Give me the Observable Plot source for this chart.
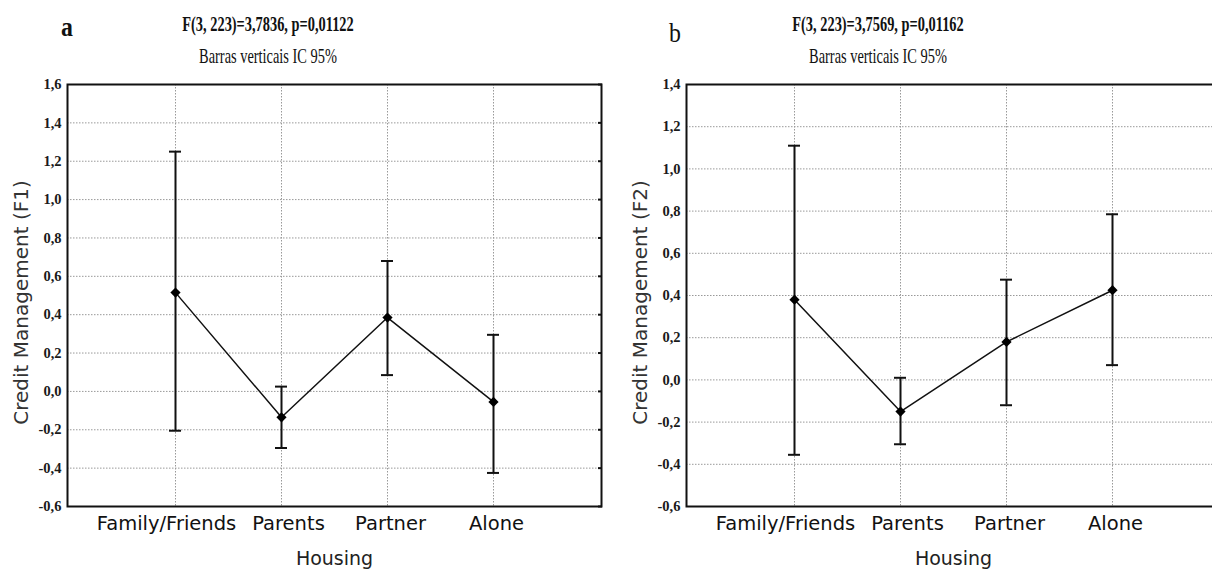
<!DOCTYPE html>
<html><head><meta charset="utf-8">
<script src="https://cdn.jsdelivr.net/npm/d3@7"></script>
<script src="https://cdn.jsdelivr.net/npm/@observablehq/plot@0.6"></script>
<style>
html,body{margin:0;padding:0;background:#fff;overflow:hidden}
#wrap{position:relative;width:1212px;height:571px;overflow:hidden;background:#fff}
.panel{position:absolute;top:0;height:571px}
.panel svg{max-width:none !important}
#titles{position:absolute;left:0;top:0}
</style></head><body>
<div id="wrap">
  <div id="pa" class="panel" style="left:0;width:606px"></div>
  <div id="pb" class="panel" style="left:606px;width:614px"></div>
  <svg id="titles" width="1212" height="80"></svg>
</div>
<script>
// ---- data ----
const housing = ["Family/Friends", "Parents", "Partner", "Alone"];
const f1Mean  = [0.515, -0.135, 0.385, -0.055];
const f1Lower = [-0.205, -0.295, 0.085, -0.425];
const f1Upper = [1.25, 0.025, 0.68, 0.295];
const f2Mean  = [0.38, -0.15, 0.18, 0.425];
const f2Lower = [-0.355, -0.305, -0.12, 0.07];
const f2Upper = [1.11, 0.01, 0.475, 0.785];
const f1Ticks = [-0.6, -0.4, -0.2, 0, 0.2, 0.4, 0.6, 0.8, 1.0, 1.2, 1.4, 1.6];
const f2Ticks = [-0.6, -0.4, -0.2, 0, 0.2, 0.4, 0.6, 0.8, 1.0, 1.2, 1.4];
const panelLetters = ["a", "b"];
const panelTitles = ["F(3, 223)=3,7836, p=0,01122", "F(3, 223)=3,7569, p=0,01162"];
const subtitle = "Barras verticais IC 95%";
const yLabels = ["Credit Management (F1)", "Credit Management (F2)"];
const xLabel = "Housing";

const fmt = d => d.toFixed(1).replace(".", ",");

function panel({mean, lower, upper, ticks, yLabel, width, marginLeft, marginRight}) {
  const data = housing.map((h, i) => ({h, m: mean[i], lo: lower[i], hi: upper[i]}));
  const xText = {anchor: "bottom", tickSize: 0, tickPadding: 10,
    fontFamily: "DejaVu Sans", fontSize: 19.5, fill: "#111", label: null};
  return Plot.plot({
    width, height: 571,
    marginTop: 84, marginBottom: 65, marginLeft, marginRight,
    style: {background: "#fff", overflow: "visible", maxWidth: "none"},
    x: {type: "point", domain: housing, padding: 1},
    y: {domain: [ticks[0], ticks[ticks.length - 1]]},
    marks: [
      Plot.gridY(ticks, {stroke: "#999", strokeOpacity: 1, strokeDasharray: "1.5,1.5", strokeWidth: 1}),
      Plot.gridX(housing, {stroke: "#999", strokeOpacity: 1, strokeDasharray: "1.5,1.5", strokeWidth: 1}),
      Plot.axisY(ticks, {anchor: "left", tickSize: 0, tickPadding: 6, tickFormat: fmt,
        fontFamily: "Liberation Serif", fontWeight: "bold", fontSize: 14.5, fill: "#1a1a1a", label: null}),
      Plot.axisY(ticks, {anchor: "right", tickSize: -4, tickFormat: () => "", label: null, stroke: "#111", strokeWidth: 2}),
      Plot.axisX(housing.slice(0, 1), {...xText, dx: -9}),
      Plot.axisX(housing.slice(1, 2), {...xText, dx: 7}),
      Plot.axisX(housing.slice(2), {...xText, dx: 3}),
      Plot.text([xLabel], {frameAnchor: "bottom", lineAnchor: "top", dy: 45,
        fontFamily: "DejaVu Sans", fontSize: 19, fill: "#222"}),
      Plot.text([yLabel], {frameAnchor: "left", rotate: -90, textAnchor: "middle", lineAnchor: "top", dx: -54, dy: 7,
        fontFamily: "DejaVu Sans", fontSize: 20, fill: "#333"}),
      Plot.ruleX(data, {x: "h", y1: "lo", y2: "hi", stroke: "#111", strokeWidth: 2}),
      Plot.ruleY(data, {x1: "h", x2: "h", y: "lo", insetLeft: -6, insetRight: -6, stroke: "#111", strokeWidth: 2}),
      Plot.ruleY(data, {x1: "h", x2: "h", y: "hi", insetLeft: -6, insetRight: -6, stroke: "#111", strokeWidth: 2}),
      Plot.line(data, {x: "h", y: "m", stroke: "#111", strokeWidth: 1.5}),
      Plot.dot(data, {x: "h", y: "m", symbol: "diamond2", r: 4.6, fill: "#000", stroke: "none"}),
      Plot.frame({stroke: "#111", strokeWidth: 2})
    ]
  });
}

document.getElementById("pa").append(panel({
  mean: f1Mean, lower: f1Lower, upper: f1Upper, ticks: f1Ticks, yLabel: yLabels[0],
  width: 606, marginLeft: 67, marginRight: 5
}));
document.getElementById("pb").append(panel({
  mean: f2Mean, lower: f2Lower, upper: f2Upper, ticks: f2Ticks, yLabel: yLabels[1],
  width: 614, marginLeft: 80, marginRight: 0
}));

// ---- titles ----
const svg = d3.select("#titles");
const centers = [268, 878];
const letterPos = [[61, 36, "bold"], [669, 42, "normal"]];
panelLetters.forEach((L, i) => {
  svg.append("text").attr("transform", `translate(${letterPos[i][0]},${letterPos[i][1]}) scale(0.85,1)`)
    .attr("font-family", "Liberation Serif").attr("font-size", 28).attr("font-weight", letterPos[i][2])
    .attr("fill", "#111").text(L);
  svg.append("text").attr("transform", `translate(${centers[i]},31) scale(0.72,1)`)
    .attr("text-anchor", "middle").attr("font-family", "Liberation Serif").attr("font-size", 20)
    .attr("font-weight", "bold").attr("fill", "#111").text(panelTitles[i]);
  svg.append("text").attr("transform", `translate(${centers[i]},63) scale(0.72,1)`)
    .attr("text-anchor", "middle").attr("font-family", "Liberation Serif").attr("font-size", 20)
    .attr("fill", "#111").text(subtitle);
});
</script>
</body></html>
